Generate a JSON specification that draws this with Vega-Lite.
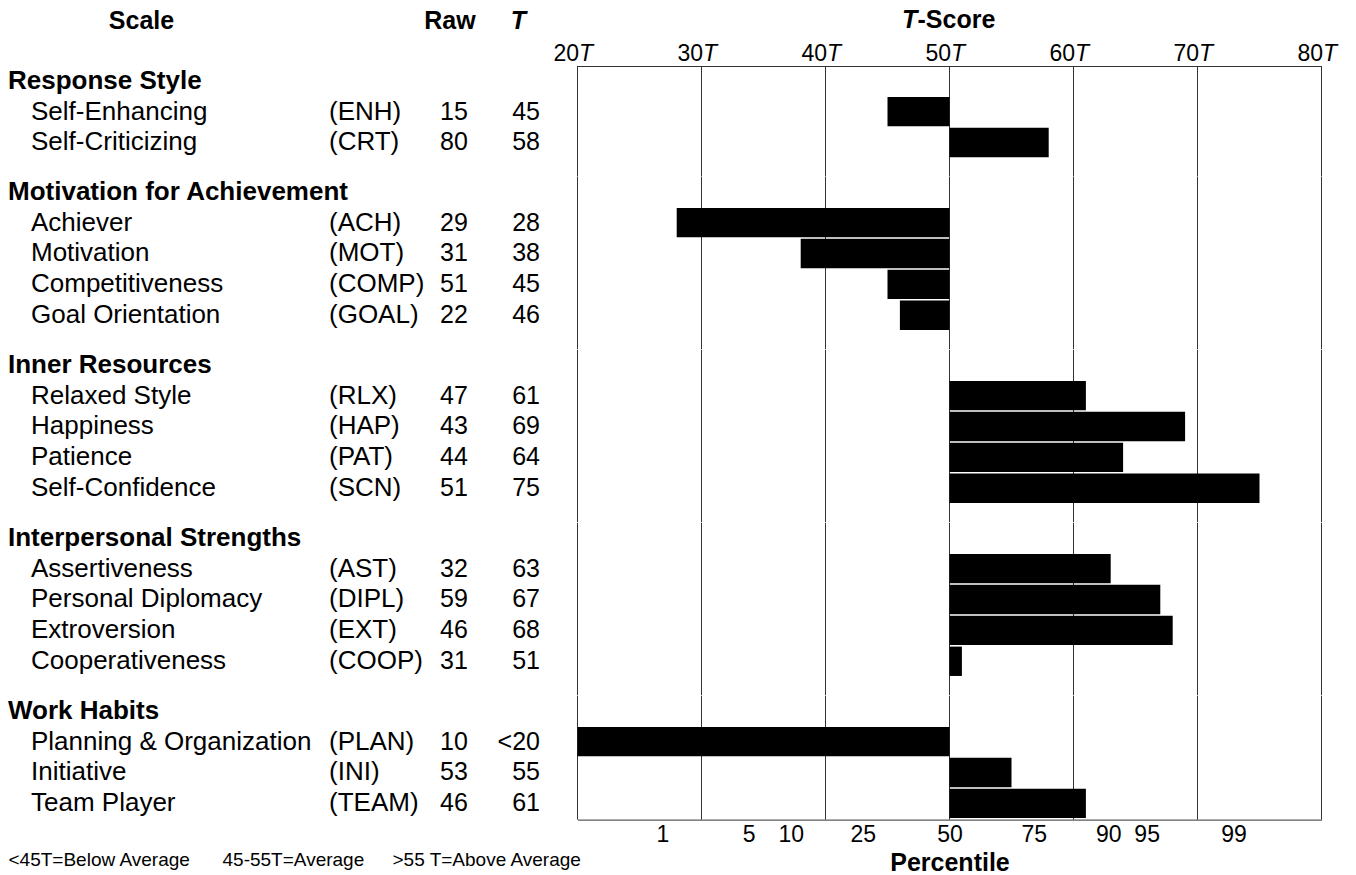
{
"$schema":"https://vega.github.io/schema/vega-lite/v6.json",
"padding":{"left":8,"top":7,"right":5,"bottom":0},
"background":"white",
"config":{"font":"Liberation Sans","view":{"stroke":null},"text":{"color":"#000"},"axis":{"labelColor":"#000","titleColor":"#000"}},
"datasets":{
"items":[
{"group":"Response Style","scale":"Self-Enhancing","abbr":"(ENH)","raw":15,"t":45,"tText":"45"},
{"group":"Response Style","scale":"Self-Criticizing","abbr":"(CRT)","raw":80,"t":58,"tText":"58"},
{"group":"Motivation for Achievement","scale":"Achiever","abbr":"(ACH)","raw":29,"t":28,"tText":"28"},
{"group":"Motivation for Achievement","scale":"Motivation","abbr":"(MOT)","raw":31,"t":38,"tText":"38"},
{"group":"Motivation for Achievement","scale":"Competitiveness","abbr":"(COMP)","raw":51,"t":45,"tText":"45"},
{"group":"Motivation for Achievement","scale":"Goal Orientation","abbr":"(GOAL)","raw":22,"t":46,"tText":"46"},
{"group":"Inner Resources","scale":"Relaxed Style","abbr":"(RLX)","raw":47,"t":61,"tText":"61"},
{"group":"Inner Resources","scale":"Happiness","abbr":"(HAP)","raw":43,"t":69,"tText":"69"},
{"group":"Inner Resources","scale":"Patience","abbr":"(PAT)","raw":44,"t":64,"tText":"64"},
{"group":"Inner Resources","scale":"Self-Confidence","abbr":"(SCN)","raw":51,"t":75,"tText":"75"},
{"group":"Interpersonal Strengths","scale":"Assertiveness","abbr":"(AST)","raw":32,"t":63,"tText":"63"},
{"group":"Interpersonal Strengths","scale":"Personal Diplomacy","abbr":"(DIPL)","raw":59,"t":67,"tText":"67"},
{"group":"Interpersonal Strengths","scale":"Extroversion","abbr":"(EXT)","raw":46,"t":68,"tText":"68"},
{"group":"Interpersonal Strengths","scale":"Cooperativeness","abbr":"(COOP)","raw":31,"t":51,"tText":"51"},
{"group":"Work Habits","scale":"Planning & Organization","abbr":"(PLAN)","raw":10,"t":20,"tText":"<20"},
{"group":"Work Habits","scale":"Initiative","abbr":"(INI)","raw":53,"t":55,"tText":"55"},
{"group":"Work Habits","scale":"Team Player","abbr":"(TEAM)","raw":46,"t":61,"tText":"61"}
],
"groups":[{"group":"Response Style"},{"group":"Motivation for Achievement"},{"group":"Inner Resources"},{"group":"Interpersonal Strengths"},{"group":"Work Habits"}],
"grid":[{"t":20},{"t":30},{"t":40},{"t":50},{"t":60},{"t":70},{"t":80}]
},
"columns":5,
"spacing":0,
"bounds":"flush",
"align":"each",
"concat":[
  {"width":23,"height":110.5,"data":{"name":"groups"},"transform":[{"filter":"datum.group==='Response Style'"}],"mark":{"type":"text","align":"left","baseline":"middle","fontSize":26,"fontWeight":"bold"},"encoding":{"x":{"datum":0,"type":"quantitative","scale":{"domain":[0,1]},"axis":null},"y":{"field":"group","type":"nominal","bandPosition":0.5,"scale":{"type":"band","domain":["Response Style","Self-Enhancing","Self-Criticizing"],"paddingInner":0.05,"paddingOuter":0.313,"align":0,"round":false},"axis":null},"text":{"field":"group"}}},
  {"width":298,"height":110.5,"data":{"name":"items"},"transform":[{"filter":"datum.group==='Response Style'"}],"mark":{"type":"text","align":"left","baseline":"middle","fontSize":26},"encoding":{"x":{"datum":0,"type":"quantitative","scale":{"domain":[0,1]},"axis":{"orient":"top","labels":false,"ticks":false,"domain":false,"grid":false,"title":"Scale","titleX":110,"titleY":-38,"titleAlign":"center","titleBaseline":"alphabetic","titleFontSize":25,"titleFontWeight":"bold"}},"y":{"field":"scale","type":"nominal","bandPosition":0.5,"scale":{"type":"band","domain":["Response Style","Self-Enhancing","Self-Criticizing"],"paddingInner":0.05,"paddingOuter":0.313,"align":0,"round":false},"axis":null},"text":{"field":"scale"}}},
  {"width":111,"height":110.5,"data":{"name":"items"},"transform":[{"filter":"datum.group==='Response Style'"}],"mark":{"type":"text","align":"left","baseline":"middle","fontSize":26},"encoding":{"x":{"datum":0,"type":"quantitative","scale":{"domain":[0,1]},"axis":null},"y":{"field":"scale","type":"nominal","bandPosition":0.5,"scale":{"type":"band","domain":["Response Style","Self-Enhancing","Self-Criticizing"],"paddingInner":0.05,"paddingOuter":0.313,"align":0,"round":false},"axis":null},"text":{"field":"abbr"}}},
  {"width":100,"height":110.5,"data":{"name":"items"},"transform":[{"filter":"datum.group==='Response Style'"}],"layer":[
   {"mark":{"type":"text","align":"left","baseline":"middle","fontSize":25},"encoding":{"x":{"datum":0,"type":"quantitative","scale":{"domain":[0,1]},"axis":{"orient":"top","labels":false,"ticks":false,"domain":false,"grid":false,"title":"Raw","titleX":9.5,"titleY":-38,"titleAlign":"center","titleBaseline":"alphabetic","titleFontSize":25,"titleFontWeight":"bold"}},"y":{"field":"scale","type":"nominal","bandPosition":0.5,"scale":{"type":"band","domain":["Response Style","Self-Enhancing","Self-Criticizing"],"paddingInner":0.05,"paddingOuter":0.313,"align":0,"round":false},"axis":null},"text":{"field":"raw"}}},
   {"mark":{"type":"text","align":"right","baseline":"middle","fontSize":25},"encoding":{"x":{"datum":1,"type":"quantitative","scale":{"domain":[0,1]},"axis":{"orient":"top","labels":false,"ticks":false,"domain":false,"grid":false,"title":"T","titleX":78,"titleY":-38,"titleAlign":"center","titleBaseline":"alphabetic","titleFontSize":25,"titleFontWeight":"bold","titleFontStyle":"italic"}},"y":{"field":"scale","type":"nominal","bandPosition":0.5,"scale":{"type":"band","domain":["Response Style","Self-Enhancing","Self-Criticizing"],"paddingInner":0.05,"paddingOuter":0.313,"align":0,"round":false},"axis":null},"text":{"field":"tText"}}}
  ],"resolve":{"axis":{"x":"independent"}}},
 {"width":781.5,"height":110.5,"layer":[
  {"data":{"name":"grid"},"mark":{"type":"rule","color":"#333","strokeWidth":1},"encoding":{"x":{"field":"t","type":"quantitative","scale":{"domain":[20,80],"range":[37.5,781.5],"nice":false,"zero":false},"axis":{"orient":"top","values":[20,30,40,50,60,70,80],"format":"d","ticks":false,"tickSize":0,"grid":false,"domain":true,"domainColor":"#333","domainWidth":1,"labelFontSize":23,"labelAlign":"right","labelOffset":1,"labelBaseline":"alphabetic","labelPadding":6,"labelFlush":false,"labelOverlap":false,"title":"-Score","titleX":377,"titleY":-39,"titleAlign":"left","titleBaseline":"alphabetic","titleFontSize":25,"titleFontWeight":"bold"}}}},
  {"data":{"name":"items"},"transform":[{"filter":"datum.group==='Response Style'"}],"mark":{"type":"bar","color":"#000"},"encoding":{"y":{"field":"scale","type":"nominal","scale":{"type":"band","domain":["Response Style","Self-Enhancing","Self-Criticizing"],"paddingInner":0.05,"paddingOuter":0.313,"align":0,"round":false},"axis":null},"x":{"field":"t","type":"quantitative","scale":{"domain":[20,80],"range":[37.5,781.5],"nice":false,"zero":false},"axis":{"orient":"top","values":[20,30,40,50,60,70,80],"labelExpr":"'T'","ticks":false,"tickSize":0,"grid":false,"domain":false,"labelFontSize":23,"labelFontStyle":"italic","labelAlign":"left","labelOffset":1,"labelBaseline":"alphabetic","labelPadding":6,"labelFlush":false,"labelOverlap":false,"title":"T","titleX":361.5,"titleY":-39,"titleAlign":"left","titleBaseline":"alphabetic","titleFontSize":25,"titleFontWeight":"bold","titleFontStyle":"italic"}},"x2":{"datum":50}}}
 ],"resolve":{"axis":{"x":"independent"}}},

  {"width":23,"height":172.3,"data":{"name":"groups"},"transform":[{"filter":"datum.group==='Motivation for Achievement'"}],"mark":{"type":"text","align":"left","baseline":"middle","fontSize":26,"fontWeight":"bold"},"encoding":{"x":{"datum":0,"type":"quantitative","scale":{"domain":[0,1]},"axis":null},"y":{"field":"group","type":"nominal","bandPosition":0.5,"scale":{"type":"band","domain":["Motivation for Achievement","Achiever","Motivation","Competitiveness","Goal Orientation"],"paddingInner":0.05,"paddingOuter":0.313,"align":0,"round":false},"axis":null},"text":{"field":"group"}}},
  {"width":298,"height":172.3,"data":{"name":"items"},"transform":[{"filter":"datum.group==='Motivation for Achievement'"}],"mark":{"type":"text","align":"left","baseline":"middle","fontSize":26},"encoding":{"x":{"datum":0,"type":"quantitative","scale":{"domain":[0,1]},"axis":null},"y":{"field":"scale","type":"nominal","bandPosition":0.5,"scale":{"type":"band","domain":["Motivation for Achievement","Achiever","Motivation","Competitiveness","Goal Orientation"],"paddingInner":0.05,"paddingOuter":0.313,"align":0,"round":false},"axis":null},"text":{"field":"scale"}}},
  {"width":111,"height":172.3,"data":{"name":"items"},"transform":[{"filter":"datum.group==='Motivation for Achievement'"}],"mark":{"type":"text","align":"left","baseline":"middle","fontSize":26},"encoding":{"x":{"datum":0,"type":"quantitative","scale":{"domain":[0,1]},"axis":null},"y":{"field":"scale","type":"nominal","bandPosition":0.5,"scale":{"type":"band","domain":["Motivation for Achievement","Achiever","Motivation","Competitiveness","Goal Orientation"],"paddingInner":0.05,"paddingOuter":0.313,"align":0,"round":false},"axis":null},"text":{"field":"abbr"}}},
  {"width":100,"height":172.3,"data":{"name":"items"},"transform":[{"filter":"datum.group==='Motivation for Achievement'"}],"layer":[
   {"mark":{"type":"text","align":"left","baseline":"middle","fontSize":25},"encoding":{"x":{"datum":0,"type":"quantitative","scale":{"domain":[0,1]},"axis":null},"y":{"field":"scale","type":"nominal","bandPosition":0.5,"scale":{"type":"band","domain":["Motivation for Achievement","Achiever","Motivation","Competitiveness","Goal Orientation"],"paddingInner":0.05,"paddingOuter":0.313,"align":0,"round":false},"axis":null},"text":{"field":"raw"}}},
   {"mark":{"type":"text","align":"right","baseline":"middle","fontSize":25},"encoding":{"x":{"datum":1,"type":"quantitative","scale":{"domain":[0,1]},"axis":null},"y":{"field":"scale","type":"nominal","bandPosition":0.5,"scale":{"type":"band","domain":["Motivation for Achievement","Achiever","Motivation","Competitiveness","Goal Orientation"],"paddingInner":0.05,"paddingOuter":0.313,"align":0,"round":false},"axis":null},"text":{"field":"tText"}}}
  ]},
 {"width":781.5,"height":172.3,"layer":[
  {"data":{"name":"grid"},"mark":{"type":"rule","color":"#333","strokeWidth":1},"encoding":{"x":{"field":"t","type":"quantitative","scale":{"domain":[20,80],"range":[37.5,781.5],"nice":false,"zero":false},"axis":null}}},
  {"data":{"name":"items"},"transform":[{"filter":"datum.group==='Motivation for Achievement'"}],"mark":{"type":"bar","color":"#000"},"encoding":{"y":{"field":"scale","type":"nominal","scale":{"type":"band","domain":["Motivation for Achievement","Achiever","Motivation","Competitiveness","Goal Orientation"],"paddingInner":0.05,"paddingOuter":0.313,"align":0,"round":false},"axis":null},"x":{"field":"t","type":"quantitative","scale":{"domain":[20,80],"range":[37.5,781.5],"nice":false,"zero":false},"axis":null},"x2":{"datum":50}}}
 ]},

  {"width":23,"height":172.3,"data":{"name":"groups"},"transform":[{"filter":"datum.group==='Inner Resources'"}],"mark":{"type":"text","align":"left","baseline":"middle","fontSize":26,"fontWeight":"bold"},"encoding":{"x":{"datum":0,"type":"quantitative","scale":{"domain":[0,1]},"axis":null},"y":{"field":"group","type":"nominal","bandPosition":0.5,"scale":{"type":"band","domain":["Inner Resources","Relaxed Style","Happiness","Patience","Self-Confidence"],"paddingInner":0.05,"paddingOuter":0.313,"align":0,"round":false},"axis":null},"text":{"field":"group"}}},
  {"width":298,"height":172.3,"data":{"name":"items"},"transform":[{"filter":"datum.group==='Inner Resources'"}],"mark":{"type":"text","align":"left","baseline":"middle","fontSize":26},"encoding":{"x":{"datum":0,"type":"quantitative","scale":{"domain":[0,1]},"axis":null},"y":{"field":"scale","type":"nominal","bandPosition":0.5,"scale":{"type":"band","domain":["Inner Resources","Relaxed Style","Happiness","Patience","Self-Confidence"],"paddingInner":0.05,"paddingOuter":0.313,"align":0,"round":false},"axis":null},"text":{"field":"scale"}}},
  {"width":111,"height":172.3,"data":{"name":"items"},"transform":[{"filter":"datum.group==='Inner Resources'"}],"mark":{"type":"text","align":"left","baseline":"middle","fontSize":26},"encoding":{"x":{"datum":0,"type":"quantitative","scale":{"domain":[0,1]},"axis":null},"y":{"field":"scale","type":"nominal","bandPosition":0.5,"scale":{"type":"band","domain":["Inner Resources","Relaxed Style","Happiness","Patience","Self-Confidence"],"paddingInner":0.05,"paddingOuter":0.313,"align":0,"round":false},"axis":null},"text":{"field":"abbr"}}},
  {"width":100,"height":172.3,"data":{"name":"items"},"transform":[{"filter":"datum.group==='Inner Resources'"}],"layer":[
   {"mark":{"type":"text","align":"left","baseline":"middle","fontSize":25},"encoding":{"x":{"datum":0,"type":"quantitative","scale":{"domain":[0,1]},"axis":null},"y":{"field":"scale","type":"nominal","bandPosition":0.5,"scale":{"type":"band","domain":["Inner Resources","Relaxed Style","Happiness","Patience","Self-Confidence"],"paddingInner":0.05,"paddingOuter":0.313,"align":0,"round":false},"axis":null},"text":{"field":"raw"}}},
   {"mark":{"type":"text","align":"right","baseline":"middle","fontSize":25},"encoding":{"x":{"datum":1,"type":"quantitative","scale":{"domain":[0,1]},"axis":null},"y":{"field":"scale","type":"nominal","bandPosition":0.5,"scale":{"type":"band","domain":["Inner Resources","Relaxed Style","Happiness","Patience","Self-Confidence"],"paddingInner":0.05,"paddingOuter":0.313,"align":0,"round":false},"axis":null},"text":{"field":"tText"}}}
  ]},
 {"width":781.5,"height":172.3,"layer":[
  {"data":{"name":"grid"},"mark":{"type":"rule","color":"#333","strokeWidth":1},"encoding":{"x":{"field":"t","type":"quantitative","scale":{"domain":[20,80],"range":[37.5,781.5],"nice":false,"zero":false},"axis":null}}},
  {"data":{"name":"items"},"transform":[{"filter":"datum.group==='Inner Resources'"}],"mark":{"type":"bar","color":"#000"},"encoding":{"y":{"field":"scale","type":"nominal","scale":{"type":"band","domain":["Inner Resources","Relaxed Style","Happiness","Patience","Self-Confidence"],"paddingInner":0.05,"paddingOuter":0.313,"align":0,"round":false},"axis":null},"x":{"field":"t","type":"quantitative","scale":{"domain":[20,80],"range":[37.5,781.5],"nice":false,"zero":false},"axis":null},"x2":{"datum":50}}}
 ]},

  {"width":23,"height":172.3,"data":{"name":"groups"},"transform":[{"filter":"datum.group==='Interpersonal Strengths'"}],"mark":{"type":"text","align":"left","baseline":"middle","fontSize":26,"fontWeight":"bold"},"encoding":{"x":{"datum":0,"type":"quantitative","scale":{"domain":[0,1]},"axis":null},"y":{"field":"group","type":"nominal","bandPosition":0.5,"scale":{"type":"band","domain":["Interpersonal Strengths","Assertiveness","Personal Diplomacy","Extroversion","Cooperativeness"],"paddingInner":0.05,"paddingOuter":0.313,"align":0,"round":false},"axis":null},"text":{"field":"group"}}},
  {"width":298,"height":172.3,"data":{"name":"items"},"transform":[{"filter":"datum.group==='Interpersonal Strengths'"}],"mark":{"type":"text","align":"left","baseline":"middle","fontSize":26},"encoding":{"x":{"datum":0,"type":"quantitative","scale":{"domain":[0,1]},"axis":null},"y":{"field":"scale","type":"nominal","bandPosition":0.5,"scale":{"type":"band","domain":["Interpersonal Strengths","Assertiveness","Personal Diplomacy","Extroversion","Cooperativeness"],"paddingInner":0.05,"paddingOuter":0.313,"align":0,"round":false},"axis":null},"text":{"field":"scale"}}},
  {"width":111,"height":172.3,"data":{"name":"items"},"transform":[{"filter":"datum.group==='Interpersonal Strengths'"}],"mark":{"type":"text","align":"left","baseline":"middle","fontSize":26},"encoding":{"x":{"datum":0,"type":"quantitative","scale":{"domain":[0,1]},"axis":null},"y":{"field":"scale","type":"nominal","bandPosition":0.5,"scale":{"type":"band","domain":["Interpersonal Strengths","Assertiveness","Personal Diplomacy","Extroversion","Cooperativeness"],"paddingInner":0.05,"paddingOuter":0.313,"align":0,"round":false},"axis":null},"text":{"field":"abbr"}}},
  {"width":100,"height":172.3,"data":{"name":"items"},"transform":[{"filter":"datum.group==='Interpersonal Strengths'"}],"layer":[
   {"mark":{"type":"text","align":"left","baseline":"middle","fontSize":25},"encoding":{"x":{"datum":0,"type":"quantitative","scale":{"domain":[0,1]},"axis":null},"y":{"field":"scale","type":"nominal","bandPosition":0.5,"scale":{"type":"band","domain":["Interpersonal Strengths","Assertiveness","Personal Diplomacy","Extroversion","Cooperativeness"],"paddingInner":0.05,"paddingOuter":0.313,"align":0,"round":false},"axis":null},"text":{"field":"raw"}}},
   {"mark":{"type":"text","align":"right","baseline":"middle","fontSize":25},"encoding":{"x":{"datum":1,"type":"quantitative","scale":{"domain":[0,1]},"axis":null},"y":{"field":"scale","type":"nominal","bandPosition":0.5,"scale":{"type":"band","domain":["Interpersonal Strengths","Assertiveness","Personal Diplomacy","Extroversion","Cooperativeness"],"paddingInner":0.05,"paddingOuter":0.313,"align":0,"round":false},"axis":null},"text":{"field":"tText"}}}
  ]},
 {"width":781.5,"height":172.3,"layer":[
  {"data":{"name":"grid"},"mark":{"type":"rule","color":"#333","strokeWidth":1},"encoding":{"x":{"field":"t","type":"quantitative","scale":{"domain":[20,80],"range":[37.5,781.5],"nice":false,"zero":false},"axis":null}}},
  {"data":{"name":"items"},"transform":[{"filter":"datum.group==='Interpersonal Strengths'"}],"mark":{"type":"bar","color":"#000"},"encoding":{"y":{"field":"scale","type":"nominal","scale":{"type":"band","domain":["Interpersonal Strengths","Assertiveness","Personal Diplomacy","Extroversion","Cooperativeness"],"paddingInner":0.05,"paddingOuter":0.313,"align":0,"round":false},"axis":null},"x":{"field":"t","type":"quantitative","scale":{"domain":[20,80],"range":[37.5,781.5],"nice":false,"zero":false},"axis":null},"x2":{"datum":50}}}
 ]},

  {"width":23,"height":123.6,"data":{"name":"groups"},"transform":[{"filter":"datum.group==='Work Habits'"}],"mark":{"type":"text","align":"left","baseline":"middle","fontSize":26,"fontWeight":"bold"},"encoding":{"x":{"datum":0,"type":"quantitative","scale":{"domain":[0,1]},"axis":{"orient":"bottom","labels":false,"ticks":false,"domain":false,"grid":false,"title":"<45T=Below Average","titleX":0,"titleY":46,"titleAlign":"left","titleBaseline":"alphabetic","titleFontSize":19,"titleFontWeight":"normal"}},"y":{"field":"group","type":"nominal","bandPosition":0.5,"scale":{"type":"band","domain":["Work Habits","Planning & Organization","Initiative","Team Player"],"paddingInner":0.05,"paddingOuter":0.025,"align":0,"round":false},"axis":null},"text":{"field":"group"}}},
  {"width":298,"height":123.6,"data":{"name":"items"},"transform":[{"filter":"datum.group==='Work Habits'"}],"mark":{"type":"text","align":"left","baseline":"middle","fontSize":26},"encoding":{"x":{"datum":0,"type":"quantitative","scale":{"domain":[0,1]},"axis":{"orient":"bottom","labels":false,"ticks":false,"domain":false,"grid":false,"title":"45-55T=Average","titleX":191,"titleY":46,"titleAlign":"left","titleBaseline":"alphabetic","titleFontSize":19,"titleFontWeight":"normal"}},"y":{"field":"scale","type":"nominal","bandPosition":0.5,"scale":{"type":"band","domain":["Work Habits","Planning & Organization","Initiative","Team Player"],"paddingInner":0.05,"paddingOuter":0.025,"align":0,"round":false},"axis":null},"text":{"field":"scale"}}},
  {"width":111,"height":123.6,"data":{"name":"items"},"transform":[{"filter":"datum.group==='Work Habits'"}],"mark":{"type":"text","align":"left","baseline":"middle","fontSize":26},"encoding":{"x":{"datum":0,"type":"quantitative","scale":{"domain":[0,1]},"axis":{"orient":"bottom","labels":false,"ticks":false,"domain":false,"grid":false,"title":">55 T=Above Average","titleX":63,"titleY":46,"titleAlign":"left","titleBaseline":"alphabetic","titleFontSize":19,"titleFontWeight":"normal"}},"y":{"field":"scale","type":"nominal","bandPosition":0.5,"scale":{"type":"band","domain":["Work Habits","Planning & Organization","Initiative","Team Player"],"paddingInner":0.05,"paddingOuter":0.025,"align":0,"round":false},"axis":null},"text":{"field":"abbr"}}},
  {"width":100,"height":123.6,"data":{"name":"items"},"transform":[{"filter":"datum.group==='Work Habits'"}],"layer":[
   {"mark":{"type":"text","align":"left","baseline":"middle","fontSize":25},"encoding":{"x":{"datum":0,"type":"quantitative","scale":{"domain":[0,1]},"axis":null},"y":{"field":"scale","type":"nominal","bandPosition":0.5,"scale":{"type":"band","domain":["Work Habits","Planning & Organization","Initiative","Team Player"],"paddingInner":0.05,"paddingOuter":0.025,"align":0,"round":false},"axis":null},"text":{"field":"raw"}}},
   {"mark":{"type":"text","align":"right","baseline":"middle","fontSize":25},"encoding":{"x":{"datum":1,"type":"quantitative","scale":{"domain":[0,1]},"axis":null},"y":{"field":"scale","type":"nominal","bandPosition":0.5,"scale":{"type":"band","domain":["Work Habits","Planning & Organization","Initiative","Team Player"],"paddingInner":0.05,"paddingOuter":0.025,"align":0,"round":false},"axis":null},"text":{"field":"tText"}}}
  ]},
 {"width":781.5,"height":123.6,"layer":[
  {"data":{"name":"grid"},"mark":{"type":"rule","color":"#333","strokeWidth":1},"encoding":{"x":{"field":"t","type":"quantitative","scale":{"domain":[20,80],"range":[37.5,781.5],"nice":false,"zero":false},"axis":null}}},
  {"data":{"name":"items"},"transform":[{"filter":"datum.group==='Work Habits'"}],"mark":{"type":"bar","color":"#000"},"encoding":{"y":{"field":"scale","type":"nominal","scale":{"type":"band","domain":["Work Habits","Planning & Organization","Initiative","Team Player"],"paddingInner":0.05,"paddingOuter":0.025,"align":0,"round":false},"axis":null},"x":{"field":"t","type":"quantitative","scale":{"domain":[20,80],"range":[37.5,781.5],"nice":false,"zero":false},"axis":{"orient":"bottom","values":[26.85,33.8,37.2,43.0,50,56.8,62.8,65.9,72.9],"labelExpr":"datum.value < 30 ? '1' : datum.value < 35 ? '5' : datum.value < 40 ? '10' : datum.value < 46 ? '25' : datum.value < 53 ? '50' : datum.value < 60 ? '75' : datum.value < 64 ? '90' : datum.value < 70 ? '95' : '99'","ticks":false,"tickSize":0,"grid":false,"domain":true,"domainColor":"#333","domainWidth":1,"labelFontSize":23,"labelAlign":"center","labelBaseline":"alphabetic","labelPadding":22,"labelFlush":false,"labelOverlap":false,"title":"Percentile","titleX":409.5,"titleY":51,"titleAlign":"center","titleBaseline":"alphabetic","titleFontSize":25,"titleFontWeight":"bold"}},"x2":{"datum":50}}}
 ],"resolve":{"axis":{"x":"independent"}}}
]
}
